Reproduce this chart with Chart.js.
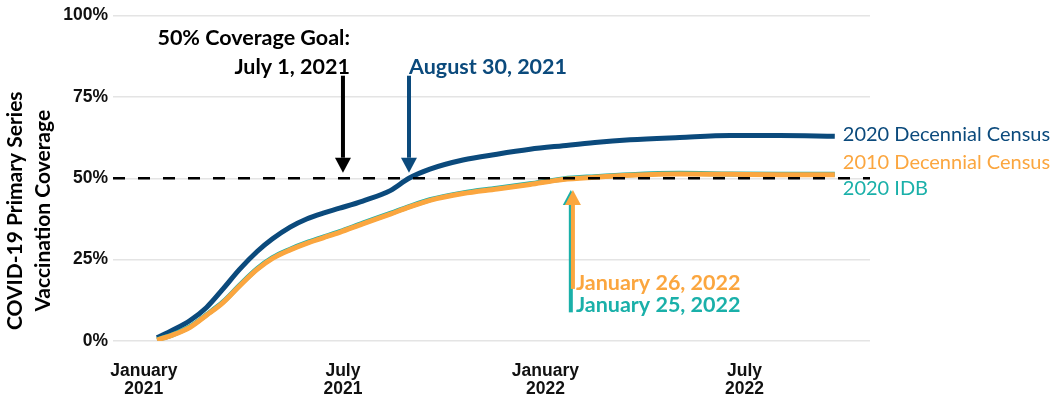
<!DOCTYPE html>
<html>
<head>
<meta charset="utf-8">
<script src="https://cdn.jsdelivr.net/npm/chart.js@4.4.1/dist/chart.umd.min.js"></script>
<style>
  html, body { margin: 0; padding: 0; background: #fff; }
  #wrap { width: 1050px; height: 400px; }
</style>
</head>
<body>
<div id="wrap"><canvas id="coverageChart" width="1050" height="400"></canvas></div>
<script>
// days since January 1, 2021
const days = [12, 26, 42, 57, 72, 87, 103, 117, 133, 148, 163, 178, 199, 224, 241, 260, 290, 321, 351, 381, 410, 442, 487, 533, 578, 628];

// primary series coverage (%) by population denominator
const census2020 = [1.0, 3.3, 6.3, 10.3, 16.0, 22.0, 27.5, 31.4, 35.0, 37.5, 39.3, 40.8, 43.0, 46.2, 50.0, 52.8, 55.6, 57.4, 58.9, 60.0, 61.0, 61.8, 62.5, 63.1, 63.1, 62.9];
const census2010 = [0.3, 1.8, 4.2, 7.9, 11.8, 16.9, 22.0, 25.4, 28.0, 30.0, 31.7, 33.4, 36.0, 39.0, 41.1, 43.2, 45.3, 46.7, 48.1, 49.6, 50.3, 50.9, 51.3, 51.2, 51.1, 51.1];
const idb2020 = [0.4, 1.9, 4.4, 8.1, 12.0, 17.1, 22.2, 25.6, 28.2, 30.2, 31.9, 33.6, 36.2, 39.2, 41.3, 43.4, 45.5, 46.9, 48.3, 49.8, 50.5, 51.1, 51.5, 51.3, 51.2, 51.2];

const seriesNames = ['2020 Decennial Census', '2010 Decennial Census', '2020 IDB'];

const xTickDays = [0, 181, 365, 546];
const xTickLabels = [['January', '2021'], ['July', '2021'], ['January', '2022'], ['July', '2022']];
const yTicks = [0, 25, 50, 75, 100];
const yTitle = ['COVID-19 Primary Series', 'Vaccination Coverage'];

const goal = 50;
const goalDay = 181;        // July 1, 2021
const census2020Day = 241;  // August 30, 2021
const census2010Day = 390;  // January 26, 2022
const idbDay = 389;         // January 25, 2022

const BLUE = '#0b4a7c';
const ORANGE = '#fba63f';
const TEAL = '#1ab0a9';

const toPoints = vals => vals.map((v, i) => ({ x: days[i], y: v }));

const ANN_FONT = 'bold 21.5px Lato, "Open Sans", sans-serif';
const LBL_FONT = '20px Lato, "Open Sans", sans-serif';
const TITLE_FONT = 'bold 21px Lato, "Open Sans", sans-serif';

function arrow(ctx, x, yFrom, yTip, color) {
  const dir = yTip > yFrom ? 1 : -1;
  const head = 15, half = 8;
  ctx.save();
  ctx.strokeStyle = color;
  ctx.fillStyle = color;
  ctx.lineWidth = 4;
  ctx.beginPath();
  ctx.moveTo(x, yFrom);
  ctx.lineTo(x, yTip - dir * head);
  ctx.stroke();
  ctx.beginPath();
  ctx.moveTo(x, yTip);
  ctx.lineTo(x - half, yTip - dir * head);
  ctx.lineTo(x + half, yTip - dir * head);
  ctx.closePath();
  ctx.fill();
  ctx.restore();
}

function text(ctx, str, x, y, color, font, align) {
  ctx.save();
  ctx.font = font;
  ctx.fillStyle = color;
  ctx.textAlign = align;
  ctx.textBaseline = 'middle';
  ctx.fillText(str, x, y);
  ctx.restore();
}

const annotations = {
  id: 'annotations',
  afterDatasetsDraw(chart) {
    const { ctx, chartArea, scales: { x, y } } = chart;

    // 50% goal line
    ctx.save();
    ctx.strokeStyle = '#000';
    ctx.lineWidth = 2.6;
    ctx.setLineDash([12, 13]);
    ctx.beginPath();
    ctx.moveTo(chartArea.left, y.getPixelForValue(goal));
    ctx.lineTo(chartArea.right, y.getPixelForValue(goal));
    ctx.stroke();
    ctx.restore();

    // goal date
    const gx = x.getPixelForValue(goalDay);
    arrow(ctx, gx, y.getPixelForValue(81.5), y.getPixelForValue(51.7), '#000');
    text(ctx, '50% Coverage Goal:', gx + 7, y.getPixelForValue(93), '#000', ANN_FONT, 'right');
    text(ctx, 'July 1, 2021', gx + 7, y.getPixelForValue(84.3), '#000', ANN_FONT, 'right');

    // 2020 census crosses 50%
    const bx = x.getPixelForValue(census2020Day);
    arrow(ctx, bx, y.getPixelForValue(81.5), y.getPixelForValue(51.7), BLUE);
    text(ctx, 'August 30, 2021', bx, y.getPixelForValue(84.3), BLUE, ANN_FONT, 'left');

    // 2010 census / IDB cross 50%
    const tx = x.getPixelForValue(idbDay) - 1;
    const ox = x.getPixelForValue(census2010Day);
    arrow(ctx, tx, y.getPixelForValue(8.8), y.getPixelForValue(46.4), TEAL);
    arrow(ctx, ox, y.getPixelForValue(16), y.getPixelForValue(46.4), ORANGE);
    text(ctx, 'January 26, 2022', ox + 3, y.getPixelForValue(17.8), ORANGE, ANN_FONT, 'left');
    text(ctx, 'January 25, 2022', ox + 3, y.getPixelForValue(10.9), TEAL, ANN_FONT, 'left');

    // series labels at line ends
    const ex = x.getPixelForValue(days[days.length - 1]) + 8;
    text(ctx, seriesNames[0], ex, y.getPixelForValue(63.4), BLUE, LBL_FONT, 'left');
    text(ctx, seriesNames[1], ex, y.getPixelForValue(54.7), ORANGE, LBL_FONT, 'left');
    text(ctx, seriesNames[2], ex, y.getPixelForValue(46.8), TEAL, LBL_FONT, 'left');

    // y axis title, centred a little below the plot centre as in the source
    ctx.save();
    ctx.font = TITLE_FONT;
    ctx.fillStyle = '#000';
    ctx.textAlign = 'center';
    ctx.textBaseline = 'middle';
    ctx.translate(15, (chartArea.top + chart.height) / 2 + 3);
    ctx.rotate(-Math.PI / 2);
    yTitle.forEach((line, i) => ctx.fillText(line, 0, i * 28));
    ctx.restore();
  }
};

const lineStyle = {
  borderWidth: 5,
  pointRadius: 0,
  fill: false,
  cubicInterpolationMode: 'monotone'
};

const ctx = document.getElementById('coverageChart').getContext('2d');
new Chart(ctx, {
  type: 'line',
  data: {
    datasets: [
      { ...lineStyle, label: seriesNames[0], data: toPoints(census2020), borderColor: BLUE, order: 3 },
      { ...lineStyle, label: seriesNames[1], data: toPoints(census2010), borderColor: ORANGE, order: 1 },
      { ...lineStyle, label: seriesNames[2], data: toPoints(idb2020), borderColor: TEAL, order: 2 }
    ]
  },
  options: {
    responsive: false,
    animation: false,
    layout: { padding: { left: 0, right: 180, top: 0, bottom: 0 } },
    plugins: { legend: { display: false }, tooltip: { enabled: false } },
    scales: {
      x: {
        type: 'linear',
        min: -28,
        max: 660,
        afterBuildTicks: scale => { scale.ticks = xTickDays.map(v => ({ value: v })); },
        afterFit: scale => { scale.height = 59; },
        grid: { display: false, drawTicks: false },
        border: { display: false },
        ticks: {
          padding: 21,
          maxRotation: 0,
          autoSkip: false,
          color: '#111',
          font: { family: '"Liberation Sans", Arial, sans-serif', size: 17.5, weight: 'bold', lineHeight: 1.03 },
          callback: v => xTickLabels[xTickDays.indexOf(v)]
        }
      },
      y: {
        min: 0,
        max: 100,
        afterBuildTicks: scale => { scale.ticks = yTicks.map(v => ({ value: v })); },
        afterFit: scale => { scale.width = 113; },
        grid: { color: '#e4e4e4', lineWidth: 1.5, drawTicks: false },
        border: { display: false },
        ticks: {
          padding: 5,
          color: '#111',
          font: { family: '"Liberation Sans", Arial, sans-serif', size: 17.5, weight: 'bold' },
          callback: v => v + '%'
        }
      }
    }
  },
  plugins: [annotations]
});
</script>
</body>
</html>
